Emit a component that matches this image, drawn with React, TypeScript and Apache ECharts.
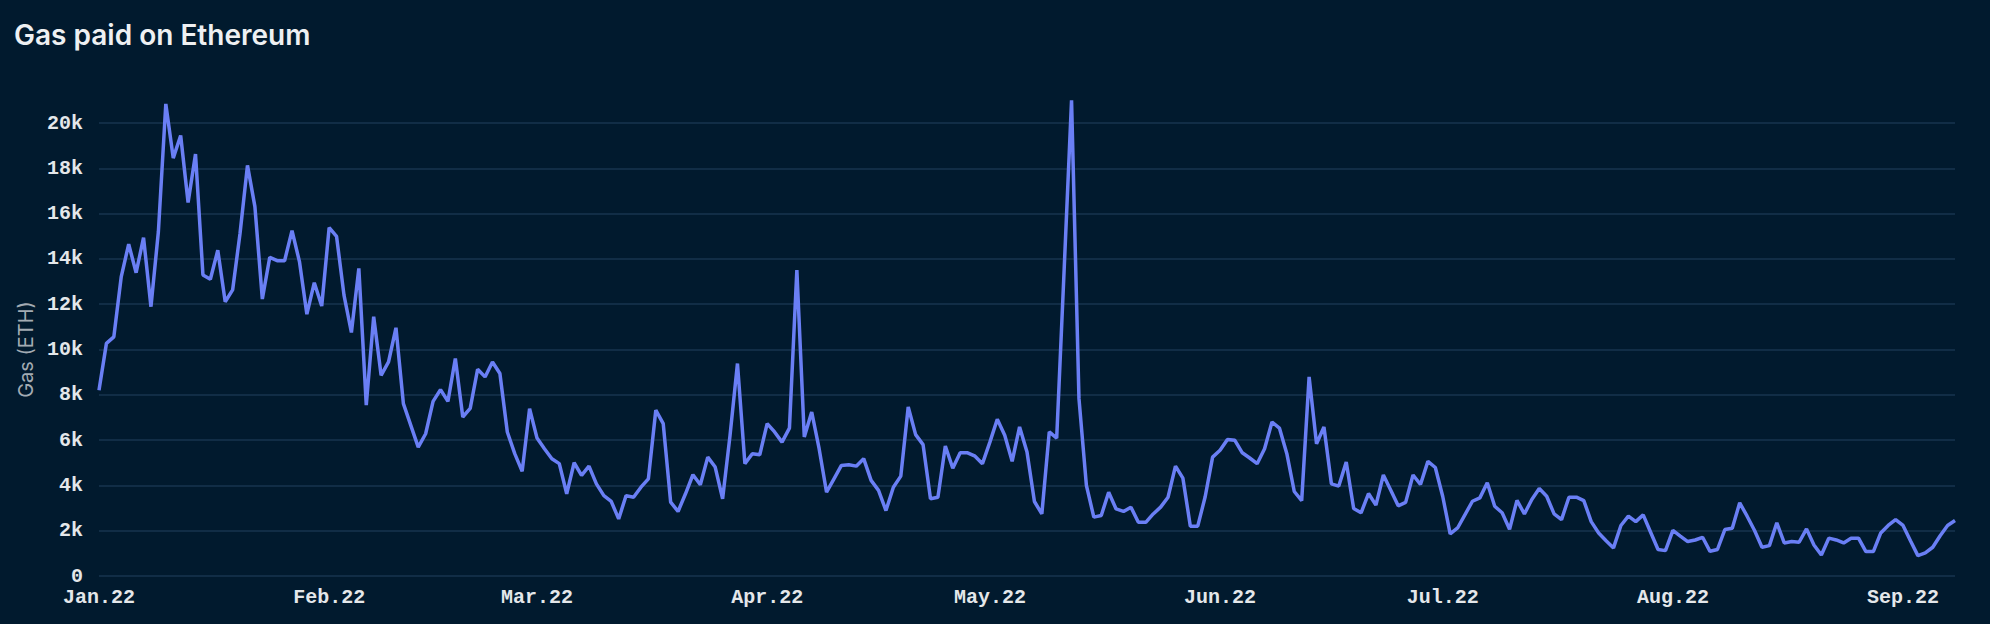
import React, { useEffect, useRef } from "react";
import * as echarts from "echarts";

const TITLE = "Gas paid on Ethereum";
const Y_NAME = "Gas (ETH)";
const START_DATE = "2022-01-01";
const MONTH_NAMES = ["Jan", "Feb", "Mar", "Apr", "May", "Jun", "Jul", "Aug", "Sep", "Oct", "Nov", "Dec"];
const Y_TICKS = [0, 2000, 4000, 6000, 8000, 10000, 12000, 14000, 16000, 18000, 20000];

// daily gas paid (ETH), Jan 1 2022 onwards
const GAS_JAN_FEB = [
  8200, 10270, 10560, 13220, 14650, 13390, 14940, 11890, 15210, 20840,
  18450, 19450, 16490, 18630, 13290, 13100, 14380, 12110, 12630, 15130,
  18130, 16310, 12230, 14070, 13920, 13920, 15250, 13880, 11560, 12950,
  11920, 15380, 14990, 12400, 10750, 13580, 7540, 11450, 8860, 9450,
  10960, 7610, 6650, 5690, 6280, 7710, 8230, 7710, 9600, 7020,
];
const GAS_FEB_APR = [
  7400, 9130, 8790, 9450, 8940, 6360, 5400, 4620, 7390, 6090,
  5620, 5180, 4960, 3630, 5000, 4440, 4850, 4070, 3550, 3290,
  2520, 3550, 3480, 3920, 4290, 7320, 6730, 3260, 2850, 3630,
  4470, 4030, 5250, 4810, 3410, 6210, 9380, 4960, 5400, 5350,
  6730, 6360, 5910, 6530, 13510, 6140, 7240, 5620, 3700, 4290,
];
const GAS_APR_MAY = [
  4880, 4910, 4850, 5180, 4220, 3780, 2890, 3920, 4410, 7460,
  6240, 5800, 3410, 3480, 5740, 4760, 5440, 5440, 5290, 4960,
  5910, 6920, 6210, 5060, 6580, 5470, 3290, 2740, 6360, 6090,
  13500, 21000, 7830, 4000, 2600, 2670, 3700, 2960, 2850, 3040,
  2370, 2370, 2740, 3040, 3480, 4850, 4320, 2200, 2200, 3500,
];
const GAS_JUN_JUL = [
  5250, 5550, 6030, 5990, 5440, 5210, 4960, 5620, 6800, 6530,
  5400, 3730, 3330, 8790, 5840, 6580, 4070, 3970, 5030, 2980,
  2790, 3640, 3130, 4460, 3790, 3100, 3250, 4460, 4040, 5060,
  4790, 3510, 1860, 2120, 2710, 3300, 3450, 4120, 3080, 2790,
  2060, 3340, 2740, 3380, 3860, 3520, 2740, 2490, 3480, 3480,
];
const GAS_JUL_SEP = [
  3330, 2400, 1900, 1560, 1240, 2230, 2640, 2400, 2700, 1930,
  1170, 1120, 2010, 1760, 1520, 1590, 1710, 1090, 1170, 2050,
  2110, 3230, 2640, 2010, 1270, 1340, 2350, 1460, 1520, 1490,
  2080, 1370, 930, 1670, 1590, 1460, 1670, 1670, 1080, 1080,
  1900, 2230, 2490, 2230, 1560, 900, 1020, 1270, 1780, 2230,
  2450,
];

const GAS = [...GAS_JAN_FEB, ...GAS_FEB_APR, ...GAS_APR_MAY, ...GAS_JUN_JUL, ...GAS_JUL_SEP];

function buildDates(start: string, n: number): string[] {
  const out: string[] = [];
  const d0 = new Date(start + "T00:00:00Z");
  for (let i = 0; i < n; i++) {
    const d = new Date(d0.getTime() + i * 86400000);
    out.push(d.toISOString().slice(0, 10));
  }
  return out;
}

const DATES = buildDates(START_DATE, GAS.length);

export default function App() {
  const ref = useRef<HTMLDivElement>(null);
  useEffect(() => {
    if (!ref.current) return;
    const chart = echarts.init(ref.current, null, { renderer: "svg" });
    const mono = "'Liberation Mono', 'DejaVu Sans Mono', monospace";
    chart.setOption({
      animation: false,
      backgroundColor: "#011a2e",
      title: {
        text: TITLE,
        left: 9,
        top: 16,
        textStyle: {
          fontFamily: "Inter, 'Noto Sans', sans-serif",
          fontSize: 28,
          fontWeight: 600,
          color: "#eef0f2",
        },
      },
      grid: { left: 99, right: 35, top: 123, bottom: 48, containLabel: false },
      xAxis: {
        type: "category",
        data: DATES,
        boundaryGap: false,
        axisLine: { show: false },
        axisTick: { show: false },
        splitLine: { show: false },
        axisLabel: {
          interval: (_i: number, v: string) => v.endsWith("-01"),
          formatter: (v: string) => MONTH_NAMES[parseInt(v.slice(5, 7), 10) - 1] + "." + v.slice(2, 4),
          fontFamily: mono,
          fontSize: 20,
          fontWeight: "bold",
          color: "#e4e7ea",
          margin: 11,
          hideOverlap: false,
        },
      },
      yAxis: {
        type: "value",
        min: Y_TICKS[0],
        max: Y_TICKS[Y_TICKS.length - 1],
        interval: Y_TICKS[1] - Y_TICKS[0],
        name: Y_NAME,
        nameLocation: "middle",
        nameGap: 62,
        nameRotate: 90,
        nameTextStyle: {
          fontFamily: "Inter, 'Noto Sans', sans-serif",
          fontSize: 20,
          color: "#a3abb3",
        },
        axisLine: { show: false },
        axisTick: { show: false },
        axisLabel: {
          formatter: (v: number) => (v === 0 ? "0" : v / 1000 + "k"),
          fontFamily: mono,
          fontSize: 20,
          fontWeight: "bold",
          color: "#e4e7ea",
          margin: 16,
        },
        splitLine: { show: true, lineStyle: { color: "#17344f", width: 1.5 } },
      },
      series: [
        {
          type: "line",
          data: GAS,
          showSymbol: false,
          symbol: "none",
          clip: false,
          lineStyle: { color: "#6a7ff5", width: 3.5 },
          itemStyle: { color: "#6a7ff5" },
        },
      ],
    });
    return () => chart.dispose();
  }, []);
  return (
    <div
      ref={ref}
      style={{ position: "fixed", left: 0, top: 0, width: 1990, height: 624 }}
    />
  );
}
